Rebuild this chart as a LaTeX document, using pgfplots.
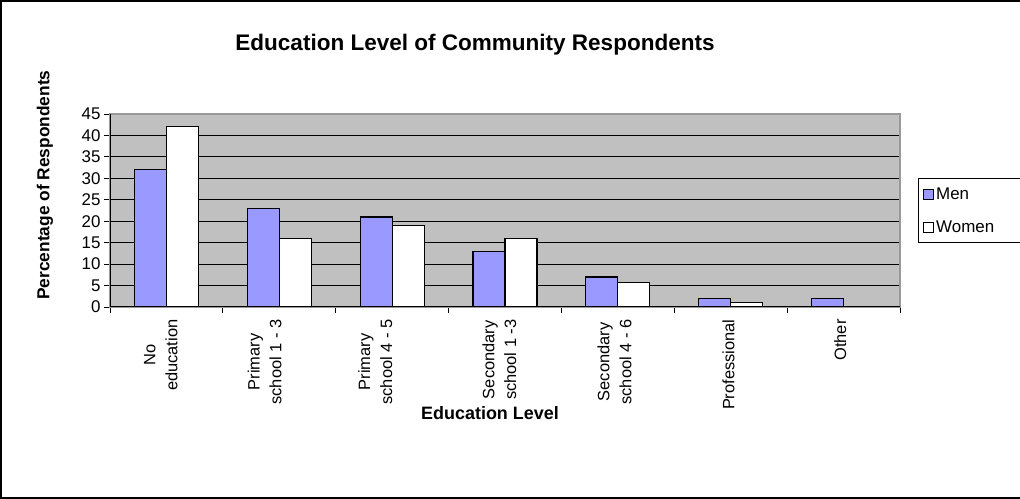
\documentclass[border=0pt]{standalone}
\usepackage{pgfplots}
\pgfplotsset{compat=1.18}
\usepackage{fontspec}
\setmainfont{Liberation Sans}
\definecolor{menblue}{RGB}{153,153,255}
\definecolor{plotgray}{RGB}{192,192,192}
\begin{document}
\begin{tikzpicture}[x=1bp,y=1bp]
\useasboundingbox (0,0) rectangle (1020,499);
\fill[white] (0,0) rectangle (1020,499);
\draw[black, line width=1.2bp] (1020,1) -- (1,1) -- (1,498) -- (1020,498);
\node[font=\bfseries\fontsize{22.6}{26}\selectfont] at (475,454) {Education Level of Community Respondents};
\node[font=\bfseries\fontsize{17.4}{20}\selectfont, rotate=90] at (45,314) {Percentage of Respondents};
\node[font=\bfseries\fontsize{18}{21}\selectfont] at (490,86) {Education Level};
\begin{axis}[
  at={(110bp,192bp)}, anchor=south west,
  scale only axis, width=790bp, height=193bp,
  xmin=-0.5, xmax=6.5, ymin=0, ymax=45,
  ytick={0,5,...,45},
  xtick={-0.05,0.87,1.85,2.95,3.97,4.98,5.97},
  xticklabels={{No\\education},{Primary\\school 1 - 3},{Primary\\school 4 - 5},{Secondary\\school 1 -3},{Secondary\\school 4 - 6},{Professional},{Other}},
  x tick label style={rotate=90, anchor=east, align=center, font=\fontsize{16.5}{22}\selectfont},
  xticklabel shift=3bp,
  y tick label style={font=\fontsize{17}{19}\selectfont},
  /pgf/number format/assume math mode=true,
  major x tick style={draw=none},
  minor xtick={-0.5,0.5,...,6.5},
  tick align=outside,
  major tick length=6bp, minor tick length=6bp,
  tick style={black, line width=0.8bp},
  xtick pos=bottom, ytick pos=left,
  ymajorgrids, grid style={black, line width=0.8bp},
  axis background/.style={fill=plotgray},
  axis line style={draw=gray!80, line width=1.2bp},
  ybar=0pt, bar width=32bp,
  legend style={at={(1.0228,0.5)}, anchor=west, draw=black, line width=0.8bp, font=\fontsize{17}{19}\selectfont, row sep=16bp, inner xsep=5bp, inner ysep=7bp},
  legend cell align=left,
  legend image code/.code={\draw[#1, line width=0.8bp] (0bp,-5bp) rectangle (10bp,5bp);},
]
\addplot[fill=menblue, draw=black, line width=1.2bp] coordinates {(0,32) (1,23) (2,21) (3,13) (4,7) (5,2) (6,2)};
\addplot[fill=white, draw=black, line width=1.2bp] coordinates {(0,42) (1,16) (2,19) (3,16) (4,5.8) (5,1.1) (6,0)};
\legend{Men, \makebox[80bp][l]{Women}}
\draw[black, line width=1bp] (rel axis cs:0,0) -- (rel axis cs:0,1);
\draw[black, line width=1bp] (rel axis cs:0,0) -- (rel axis cs:1,0);
\end{axis}
\end{tikzpicture}
\end{document}
